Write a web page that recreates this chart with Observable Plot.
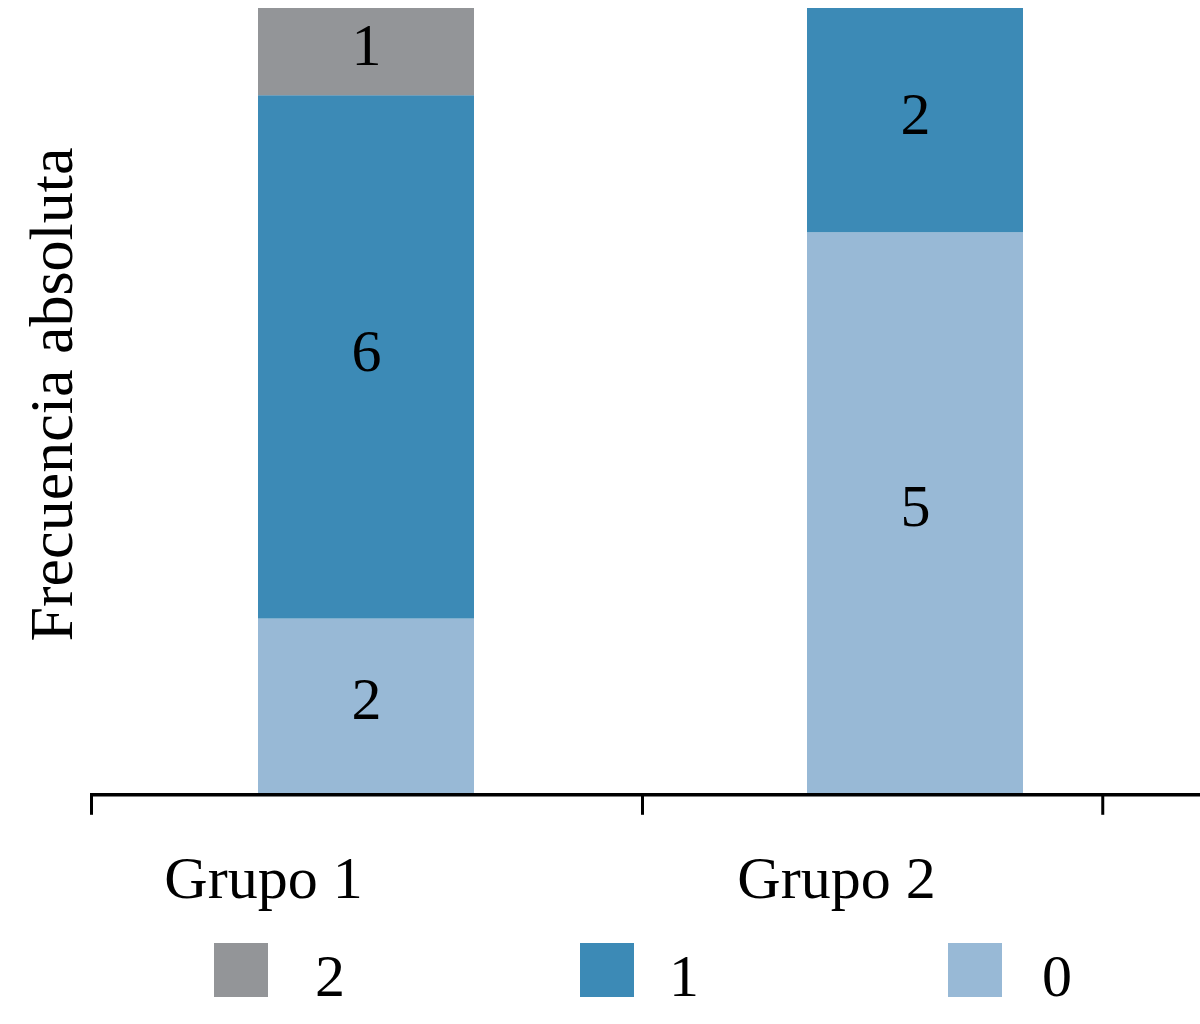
<!DOCTYPE html>
<html>
<head>
<meta charset="utf-8">
<script src="https://cdn.jsdelivr.net/npm/d3@7"></script>
<script src="https://cdn.jsdelivr.net/npm/@observablehq/plot@0.6"></script>
<style>
  html, body { margin: 0; padding: 0; background: #fff; }
  #chart { width: 1200px; }
  .legend { position: relative; width: 1200px; height: 99px; font-family: "Liberation Serif", "Times New Roman", serif; font-size: 60px; line-height: 1; color: #000; }
  .legend .sw { position: absolute; top: 18px; width: 54px; height: 54px; }
  .legend .lb { position: absolute; top: 21px; }
</style>
</head>
<body>
<div id="chart"></div>
<script>
// Data
const groups = ["Grupo 1", "Grupo 2"];
const levels = ["0", "1", "2"];
const counts0 = [2, 5];
const counts1 = [6, 2];
const counts2 = [1, 0];
const levelColors = ["#98b9d6", "#3c8ab6", "#939598"];
const yLabel = "Frecuencia absoluta";
const legendOrder = ["2", "1", "0"];

const countsByLevel = { "0": counts0, "1": counts1, "2": counts2 };
const data = [];
levels.forEach(lv => groups.forEach((g, i) => data.push({ group: g, level: lv, count: countsByLevel[lv][i] })));

const W = 1200, H = 925;
const font = "Liberation Serif, Times New Roman, serif";

function axisMark(index, scales, values, dimensions) {
  const x = scales.x, y = scales.y;
  const bw = x.bandwidth(), step = x.step();
  const c1 = x(groups[0]) + bw / 2, c2 = x(groups[1]) + bw / 2;
  const y0 = y(0) + 1.8;
  const ticks = [c1 - step / 2, (c1 + c2) / 2 + 2, c2 + 0.342 * step];
  const g = d3.create("svg:g").attr("stroke", "#000").attr("fill", "none");
  g.append("line").attr("x1", ticks[0] - 1.5).attr("x2", dimensions.width).attr("y1", y0).attr("y2", y0).attr("stroke-width", 3.6);
  for (const t of ticks) {
    g.append("line").attr("x1", t).attr("x2", t).attr("y1", y0).attr("y2", y0 + 20).attr("stroke-width", 3);
  }
  return g.node();
}

const plot = Plot.plot({
  width: W,
  height: H,
  marginTop: 8,
  marginBottom: 132,
  marginLeft: 90,
  marginRight: 10,
  style: { fontFamily: font, fontSize: "60px", background: "#fff", color: "#000" },
  x: { type: "band", domain: groups, range: [90, 1190], paddingInner: 0.607, paddingOuter: 0.3036, align: 0.5, axis: null },
  y: { domain: [0, 1], axis: null },
  color: { domain: levels, range: levelColors },
  marks: [
    Plot.barY(data, Plot.stackY({ x: "group", y: "count", z: "level", fill: "level", offset: "normalize" })),
    Plot.text(data.filter(d => d.count > 0), Plot.stackY({ x: "group", y: "count", z: "level", text: d => String(d.count), offset: "normalize", fill: "#000", fontSize: 60, dy: -6 })),
    axisMark,
    Plot.text([groups[0]], { x: d => d, frameAnchor: "bottom", dy: 104, dx: -103, fontSize: 60, fill: "#000" }),
    Plot.text([groups[1]], { x: d => d, frameAnchor: "bottom", dy: 104, dx: -79, fontSize: 60, fill: "#000" }),
    Plot.text([yLabel], { frameAnchor: "left", textAnchor: "middle", rotate: -90, dx: -38, dy: -6.5, fontSize: 62, fill: "#000" })
  ]
});
document.getElementById("chart").appendChild(plot);

// Legend (HTML, below the SVG)
const legendPos = { "2": [214, 315], "1": [580, 669], "0": [948, 1042] };
const legend = d3.select("body").append("div").attr("class", "legend");
for (const lv of legendOrder) {
  const [sx, tx] = legendPos[lv];
  legend.append("div").attr("class", "sw").style("left", sx + "px").style("background", levelColors[levels.indexOf(lv)]);
  legend.append("div").attr("class", "lb").style("left", tx + "px").text(lv);
}
</script>
</body>
</html>
